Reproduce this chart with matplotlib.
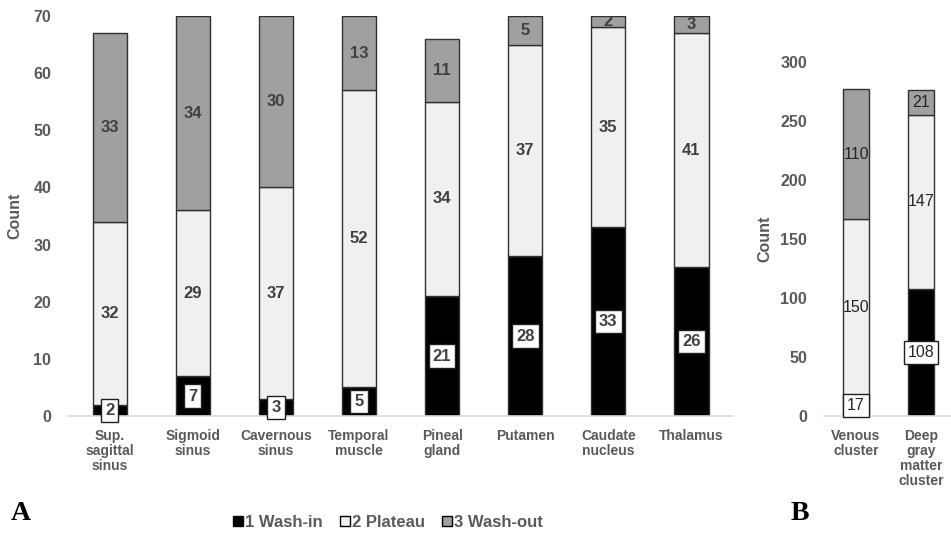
import matplotlib
matplotlib.use('Agg')
import matplotlib.pyplot as plt
from matplotlib.patches import Patch

plt.rcParams['font.family'] = ['Liberation Sans', 'DejaVu Sans']

# panel A data
regions = ['Sup.\nsagittal\nsinus', 'Sigmoid\nsinus', 'Cavernous\nsinus', 'Temporal\nmuscle',
           'Pineal\ngland', 'Putamen', 'Caudate\nnucleus', 'Thalamus']
wash_in = [2, 7, 3, 5, 21, 28, 33, 26]
plateau = [32, 29, 37, 52, 34, 37, 35, 41]
wash_out = [33, 34, 30, 13, 11, 5, 2, 3]

# panel B data
clusters = ['Venous\ncluster', 'Deep\ngray\nmatter\ncluster']
cl_wash_in = [17, 108]
cl_plateau = [150, 147]
cl_wash_out = [110, 21]

c_in = '#000000'
c_pl = '#f0f0f0'
c_out = '#a0a0a0'
txt = '#595959'
lab = '#404040'


def stacked(ax, names, a, b, c, width, ymax, ticks, fs, bold):
    x = list(range(len(names)))
    b_bottom = a
    c_bottom = [i + j for i, j in zip(a, b)]
    ax.bar(x, a, width, color=c_in, edgecolor='#303030', linewidth=1)
    ax.bar(x, b, width, bottom=b_bottom, color=c_pl, edgecolor='#303030', linewidth=1)
    ax.bar(x, c, width, bottom=c_bottom, color=c_out, edgecolor='#303030', linewidth=1)
    w = 'bold' if bold else 'normal'
    col = lab if bold else '#262626'
    for i in x:
        ax.text(i, a[i] / 2, str(a[i]), ha='center', va='center', fontsize=fs,
                fontweight=w, color=col,
                bbox=dict(boxstyle='square,pad=0.25', fc='white', ec='#202020', lw=1))
        ax.text(i, a[i] + b[i] / 2, str(b[i]), ha='center', va='center', fontsize=fs,
                fontweight=w, color=col, clip_on=True)
        ax.text(i, c_bottom[i] + c[i] / 2, str(c[i]), ha='center', va='center', fontsize=fs,
                fontweight=w, color=col, clip_on=True)
    ax.set_xlim(-0.5, len(names) - 0.5)
    ax.set_ylim(0, ymax)
    ax.set_yticks(ticks)
    ax.set_xticks(x)
    ax.set_xticklabels(names, fontsize=10, fontweight='bold', color=txt, linespacing=1.1)
    ax.tick_params(axis='both', length=0)
    ax.tick_params(axis='y', pad=12, labelsize=11.5, labelcolor=txt)
    ax.tick_params(axis='x', pad=9)
    for t in ax.get_yticklabels():
        t.set_fontweight('bold')
    for s in ['top', 'right', 'left']:
        ax.spines[s].set_visible(False)
    ax.spines['bottom'].set_color('#d9d9d9')
    ax.spines['bottom'].set_linewidth(1.2)
    ax.set_ylabel('Count', fontsize=11.5, fontweight='bold', color=txt)


fig = plt.figure(figsize=(9.51, 5.33), dpi=100)
axA = fig.add_axes([0.0715, 0.2195, 0.6993, 0.7505])
stacked(axA, regions, wash_in, plateau, wash_out, 0.41, 70, range(0, 71, 10), 12, True)
axA.yaxis.set_label_coords(-0.069, 0.5)

axB = fig.add_axes([0.866, 0.2195, 0.1367, 0.664])
stacked(axB, clusters, cl_wash_in, cl_plateau, cl_wash_out, 0.4, 300, range(0, 301, 50), 11.5, False)
axB.yaxis.set_label_coords(-0.39, 0.5)

handles = [Patch(fc=c_in, ec='black'), Patch(fc=c_pl, ec='black'), Patch(fc=c_out, ec='black')]
fig.legend(handles, ['1 Wash-in', '2 Plateau', '3 Wash-out'], loc='center', ncol=3,
           bbox_to_anchor=(0.408, 0.02), frameon=False, handlelength=0.6, handleheight=0.6,
           handletextpad=0.15, columnspacing=1.0,
           prop={'weight': 'bold', 'size': 12}, labelcolor=txt)

fig.text(0.011, 0.024, 'A', fontsize=20, fontweight='bold', family='Liberation Serif')
fig.text(0.831, 0.024, 'B', fontsize=20, fontweight='bold', family='Liberation Serif')

fig.savefig('out.png', dpi=100)
